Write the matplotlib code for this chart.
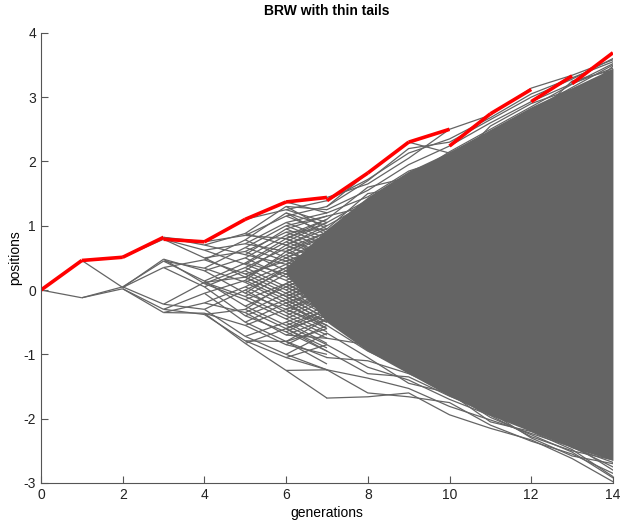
import numpy as np
import matplotlib.pyplot as plt
from matplotlib.collections import LineCollection

plt.rcParams['font.family'] = ['Liberation Sans', 'DejaVu Sans']
plt.rcParams['axes.unicode_minus'] = False

# node positions of the first generations (children of node j are 2j, 2j+1)
gen0 = [0.0]
gen1 = [0.46, -0.12]
gen2 = [0.51, 0.04, 0.05, 0.02]
gen3 = [0.82, 0.79, 0.48, 0.35, 0.45, -0.22, -0.30, -0.35]
gen4 = [0.75, 0.70, 0.62, 0.50, 0.30, 0.10, 0.47, 0.05,
        0.34, 0.14, 0.12, -0.30, -0.05, -0.38, -0.36, -0.20]
gen5 = [1.10, 0.85, 0.88, 0.55, 0.72, 0.40, 0.60, 0.20,
        0.50, -0.05, 0.35, -0.15, 0.78, 0.25, 0.30, -0.40,
        0.66, 0.12, 0.42, -0.25, 0.20, -0.10, 0.00, -0.72,
        0.15, -0.50, -0.79, -0.30, -0.83, -0.55, 0.05, -0.35]
gen6 = [1.37, 1.25, 1.15, 0.80, 1.30, 0.70, 0.95, 0.40,
        1.05, 0.60, 0.75, 0.15, 0.90, 0.30, 0.55, -0.10,
        0.85, 0.20, 0.35, -0.30, 0.65, 0.05, 0.10, -0.45,
        1.20, 0.50, 0.45, -0.05, 0.70, 0.00, -0.15, -0.65,
        1.00, 0.45, 0.40, -0.20, 0.80, 0.25, 0.05, -0.55,
        0.50, -0.10, 0.25, -0.40, 0.30, -0.35, -0.50, -1.00,
        0.60, -0.15, -0.20, -0.80, -0.80, -1.05, 0.10, -0.60,
        -0.60, -1.25, -0.30, -0.85, 0.35, -0.25, -0.05, -0.70]
gen7 = [1.44, 1.20, 1.39, 1.05, 1.30, 0.90, 1.10, 0.55,
        1.25, 0.95, 1.00, 0.40, 1.15, 0.70, 0.75, 0.10,
        1.20, 0.80, 0.90, 0.35, 1.05, 0.50, 0.45, -0.20,
        0.95, 0.65, 0.60, 0.00, 0.85, 0.25, 0.20, -0.45,
        1.10, 0.60, 0.50, -0.15, 0.70, 0.05, -0.05, -0.55,
        0.90, 0.30, 0.35, -0.30, 0.40, -0.25, -0.15, -0.75,
        1.00, 0.85, 0.80, 0.20, 0.65, 0.15, 0.25, -0.40,
        0.95, 0.45, 0.30, -0.35, 0.15, -0.50, -0.35, -0.95,
        1.15, 0.75, 0.70, 0.10, 0.55, 0.00, 0.05, -0.60,
        1.05, 0.50, 0.45, -0.10, 0.30, -0.25, -0.30, -0.85,
        0.75, 0.20, 0.15, -0.45, 0.50, -0.05, -0.10, -0.70,
        0.55, 0.05, -0.05, -0.65, -0.25, -0.83, -0.67, -1.24,
        0.85, 0.35, 0.10, -0.50, 0.00, -0.55, -0.45, -1.05,
        -0.60, -1.15, -0.85, -1.24, 0.35, -0.20, -0.40, -0.90,
        -0.30, -0.95, -1.24, -1.68, 0.00, -0.60, -0.55, -1.00,
        0.60, 0.10, 0.05, -0.50, 0.25, -0.35, -0.45, -0.75]
tree = [gen0, gen1, gen2, gen3, gen4, gen5, gen6, gen7]

# dense part of the cloud, generations 6..14
core_gens = [6, 7, 8, 9, 10, 11, 12, 13, 14]
core_low = [0.25, -0.50, -0.95, -1.30, -1.65, -1.95, -2.20, -2.45, -2.65]
core_high = [0.35, 0.95, 1.45, 1.85, 2.15, 2.50, 2.85, 3.15, 3.45]

# visible paths on the upper and lower edge of the cloud, generations 7..14
path_gens = [7, 8, 9, 10, 11, 12, 13, 14]
upper_paths = [
    [1.44, 1.65, 2.05, 2.50, 2.72, 3.14, 3.34, 3.58],
    [1.30, 1.82, 2.30, 2.13, 2.45, 2.80, 3.15, 3.50],
    [1.25, 1.55, 1.95, 2.24, 2.60, 2.93, 3.21, 3.45],
    [1.20, 1.45, 1.85, 2.05, 2.35, 2.70, 3.05, 3.40],
    [1.10, 1.60, 1.75, 2.15, 2.50, 2.85, 3.20, 3.52],
    [1.00, 1.35, 1.70, 1.95, 2.40, 2.62, 3.00, 3.38],
    [0.95, 1.50, 1.60, 2.00, 2.25, 2.75, 3.10, 3.30],
    [1.15, 1.30, 1.80, 2.10, 2.30, 2.55, 2.95, 3.48],
    [0.90, 1.25, 1.65, 1.85, 2.20, 2.65, 3.25, 3.42],
    [1.05, 1.40, 1.50, 1.90, 2.55, 2.90, 3.12, 3.36],
    [1.39, 1.72, 2.13, 2.35, 2.68, 3.05, 3.30, 3.55],
    [1.30, 1.70, 2.20, 2.30, 2.65, 3.00, 3.28, 3.60],
]
lower_paths = [
    [-1.68, -1.66, -1.60, -1.94, -2.15, -2.33, -2.62, -2.98],
    [-1.24, -1.37, -1.53, -1.81, -2.02, -2.23, -2.44, -2.75],
    [-1.24, -1.60, -1.66, -1.75, -2.10, -2.35, -2.55, -2.85],
    [-0.85, -1.20, -1.40, -1.70, -1.95, -2.28, -2.50, -2.64],
    [-0.67, -1.05, -1.45, -1.60, -2.05, -2.20, -2.48, -2.90],
    [-0.95, -1.30, -1.35, -1.65, -1.90, -2.30, -2.58, -2.70],
    [-0.55, -0.95, -1.25, -1.55, -1.88, -2.12, -2.40, -2.80],
    [-0.75, -0.85, -1.15, -1.50, -1.80, -2.18, -2.36, -2.60],
    [-1.05, -1.10, -1.30, -1.58, -1.98, -2.25, -2.52, -2.92],
    [-0.45, -0.80, -1.20, -1.45, -1.75, -2.08, -2.45, -2.68],
]

# maximum at each generation, drawn from its parent: (generation, start, end)
max_gen = [0, 1, 2, 3, 4, 5, 6, 7, 8, 9, 10, 11, 12, 13]
max_from = [0.00, 0.46, 0.51, 0.79, 0.75, 1.10, 1.37, 1.39, 1.82, 2.30, 2.24, 2.74, 2.93, 3.21]
max_to = [0.46, 0.51, 0.82, 0.75, 1.10, 1.37, 1.44, 1.82, 2.30, 2.50, 2.74, 3.12, 3.33, 3.69]

grey = '#646464'

fig = plt.figure(figsize=(6.21, 5.21), dpi=100)
ax = fig.add_axes([0.066, 0.073, 0.921, 0.864])

segs = []
for g in range(1, len(tree)):
    for j, y in enumerate(tree[g]):
        segs.append([(g - 1, tree[g - 1][j // 2]), (g, y)])
ax.add_collection(LineCollection(segs, colors=grey, linewidths=0.9))

ax.fill_between(core_gens, core_low, core_high, color=grey, linewidth=0)
for p in upper_paths + lower_paths:
    ax.plot(path_gens, p, color=grey, lw=0.9)

for g, a, b in zip(max_gen, max_from, max_to):
    ax.plot([g, g + 1], [a, b], color='red', lw=2.6, solid_capstyle='butt')

ax.set_xlim(0, 14)
ax.set_ylim(-3, 4)
ax.set_xticks(range(0, 15, 2))
ax.set_yticks(range(-3, 5))
for s in ['top', 'right']:
    ax.spines[s].set_visible(False)
for s in ['left', 'bottom']:
    ax.spines[s].set_color('#555555')
ax.tick_params(direction='in', length=5, color='#555555', labelsize=10,
               labelcolor='#222222')
ax.set_title('BRW with thin tails', fontsize=10, fontweight='bold', pad=13)
ax.set_xlabel('generations', fontsize=10, labelpad=3)
ax.set_ylabel('positions', fontsize=10, labelpad=1)

fig.savefig('out.png', dpi=100)
